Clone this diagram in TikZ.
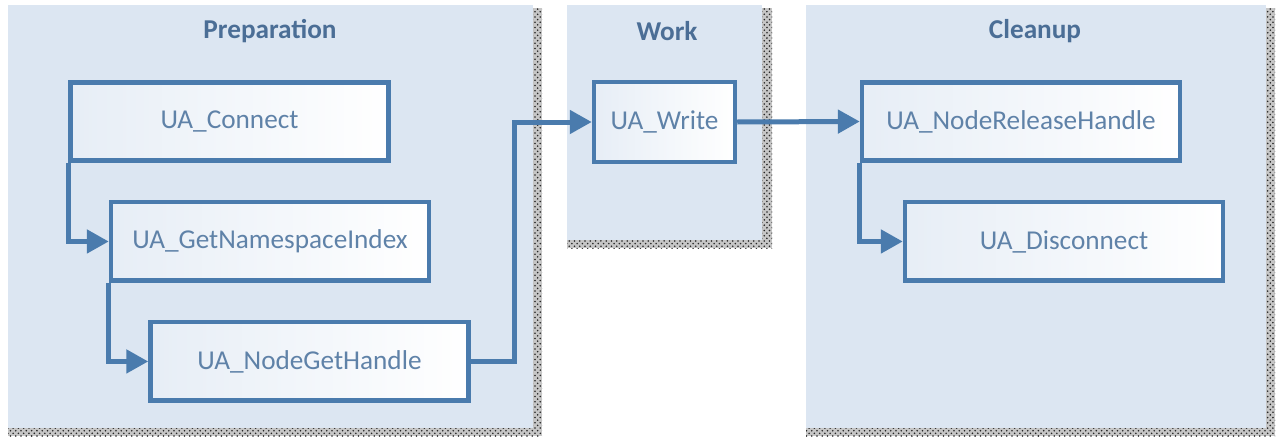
\documentclass[tikz,border=0pt]{standalone}
\usepackage{fontspec}
\setmainfont{Carlito}
\usetikzlibrary{arrows.meta, positioning, patterns}

\definecolor{panelbg}{HTML}{DCE6F2}
\definecolor{edgeblue}{HTML}{4A7BAD}
\definecolor{labelblue}{HTML}{5F82A8}
\definecolor{headblue}{HTML}{4B6E96}

\begin{document}
\begin{tikzpicture}[
    x=0.02cm, y=-0.02cm,
    task/.style={rectangle, draw=edgeblue, line width=0.09cm, left color=panelbg!70!white, right color=white,
        text=labelblue, minimum width=6.36cm, minimum height=1.57cm, font=\fontsize{15.5}{18}\selectfont},
    heading/.style={text=headblue, font=\fontsize{15.5}{18}\selectfont\bfseries},
    shade/.style={preaction={fill=gray!45}, pattern=crosshatch dots, pattern color=black!85},
    flow/.style={draw=edgeblue, line width=0.1cm, -{Triangle[length=0.44cm, width=0.46cm]}}
]
    % page and the three phase panels with their dotted shadows
    \fill[white] (0,0) rectangle (1277,436);
    \fill[shade] (8,8) rectangle (542,436);
    \fill[panelbg] (8,5) rectangle (533,428);
    \fill[shade] (567,8) rectangle (772,248);
    \fill[panelbg] (567,5) rectangle (762,240);
    \fill[shade] (806,8) rectangle (1275,436);
    \fill[panelbg] (806,5) rectangle (1266,428);

    \node[heading] (preptitle) at (270,31) {Preparation};
    \node[heading] (worktitle) at (667,31) {Work};
    \node[heading] (cleantitle) at (1035,31) {Cleanup};

    % preparation
    \node[task] (connect) at (229.5,121.5) {UA\_Connect};
    \node[task, below=0.74cm of connect, xshift=0.81cm] (nsidx) {UA\_GetNamespaceIndex};
    \node[task, below=0.74cm of nsidx, xshift=0.79cm] (gethandle) {UA\_NodeGetHandle};

    % work
    \node[task, minimum width=2.82cm, minimum height=1.6cm] (write) at (664.5,122) {UA\_Write};

    % cleanup
    \node[task] (release) at (1021,121.5) {UA\_NodeReleaseHandle};
    \node[task, below=0.74cm of release, xshift=0.86cm] (disconnect) {UA\_Disconnect};

    \draw[flow] (connect.south west) |- (nsidx.west);
    \draw[flow] (nsidx.south west) |- (gethandle.west);
    \draw[flow] (gethandle.east) -- ++(44,0) |- (write.west);
    \draw[flow] (write.east) -- (release.west);
    \draw[flow] (release.south west) |- (disconnect.west);
\end{tikzpicture}
\end{document}
